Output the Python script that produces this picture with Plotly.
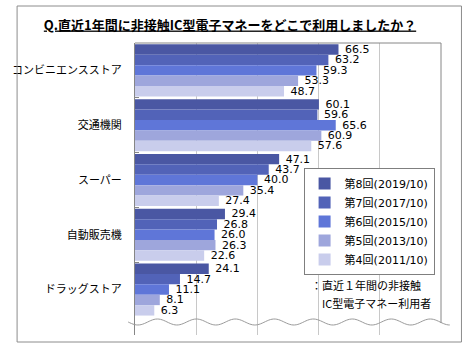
import numpy as np
import plotly.graph_objects as go

categories = ["コンビニエンスストア", "交通機関", "スーパー", "自動販売機", "ドラッグストア"]
series_names = ["第8回(2019/10)", "第7回(2017/10)", "第6回(2015/10)", "第5回(2013/10)", "第4回(2011/10)"]
values_8 = [66.5, 60.1, 47.1, 29.4, 24.1]
values_7 = [63.2, 59.6, 43.7, 26.8, 14.7]
values_6 = [59.3, 65.6, 40.0, 26.0, 11.1]
values_5 = [53.3, 60.9, 35.4, 26.3, 8.1]
values_4 = [48.7, 57.6, 27.4, 22.6, 6.3]
series_values = [values_8, values_7, values_6, values_5, values_4]
colors = ["#4a57a3", "#5263b8", "#5f76d8", "#9ea6dc", "#c9cdec"]

W, H = 470, 350
L, R, T, B = 127, 441, 43, 335  # plot area in px


def px_x(x):
    return (x - L) / (R - L)


def px_y(y):
    return (B - y) / (B - T)


fig = go.Figure()
for name, vals, col in zip(series_names, series_values, colors):
    fig.add_trace(go.Bar(
        y=categories, x=vals, name=name, orientation="h",
        marker=dict(color=col, line=dict(width=0)),
        text=[f" {v:.1f}" for v in vals], textposition="outside",
        textfont=dict(family="DejaVu Sans", size=11, color="#000000"),
        constraintext="none", cliponaxis=False,
        legendgroup=name,
    ))

# decorative wave (axis break)
wx = np.linspace(120, 450, 200)
wy = 322 + 3 * np.sin((wx - 120) / 40 * 2 * np.pi)
path = "M" + " L".join(f"{px_x(a):.5f},{px_y(b):.5f}" for a, b in zip(wx, wy))

shapes = [
    dict(type="path", path=path, xref="paper", yref="paper",
         line=dict(color="#9a9a9a", width=1)),
    # top border of plot area
    dict(type="line", xref="paper", yref="paper", x0=0, x1=1, y0=1, y1=1,
         line=dict(color="#868686", width=1)),
    # right border of plot area
    dict(type="line", xref="paper", yref="paper", x0=1, x1=1, y0=1, y1=px_y(323),
         line=dict(color="#868686", width=1)),
    # outer frame
    dict(type="rect", xref="paper", yref="paper",
         x0=px_x(6), x1=px_x(462), y0=px_y(342), y1=px_y(6),
         line=dict(color="#8c8c8c", width=1)),
]

annotations = [
    dict(text="：直近１年間の非接触", xref="paper", yref="paper",
         x=px_x(306), y=px_y(285), xanchor="left", yanchor="middle", showarrow=False,
         font=dict(family="Noto Sans CJK JP", size=11, color="#000000")),
    dict(text="IC型電子マネー利用者", xref="paper", yref="paper",
         x=px_x(317), y=px_y(303), xanchor="left", yanchor="middle", showarrow=False,
         font=dict(family="Noto Sans CJK JP", size=11, color="#000000")),
]

fig.update_layout(
    width=W, height=H,
    margin=dict(l=L, r=W - R, t=T, b=H - B, pad=0),
    paper_bgcolor="#ffffff", plot_bgcolor="#ffffff",
    barmode="group", bargap=0.05, bargroupgap=0,
    font=dict(family="DejaVu Sans, Noto Sans CJK JP", size=11, color="#000000"),
    title=dict(text="<b><u>Q.直近1年間に非接触IC型電子マネーをどこで利用しましたか？</u></b>",
               x=230 / W, xref="container", xanchor="center",
               y=1 - 25 / H, yref="container", yanchor="middle",
               font=dict(family="Noto Sans CJK JP", size=13, color="#000000")),
    legend=dict(x=px_x(300), y=px_y(168), xanchor="left", yanchor="top",
                bgcolor="#ffffff", bordercolor="#7f7f7f", borderwidth=1,
                traceorder="grouped", tracegroupgap=0,
                font=dict(family="DejaVu Sans, Noto Sans CJK JP", size=11)),
    shapes=shapes, annotations=annotations,
    showlegend=True,
)
fig.update_xaxes(range=[0, 100], tickmode="array", tickvals=[20, 40, 60, 80],
                 showticklabels=False, showgrid=True, gridcolor="#c8c8c8", gridwidth=1,
                 zeroline=False, showline=False, fixedrange=True)
fig.update_yaxes(type="category", categoryorder="array", categoryarray=categories,
                 range=[4.83, -0.5], showline=True, linecolor="#868686", linewidth=1,
                 ticks="inside", tickson="boundaries", ticklen=4, tickcolor="#868686",
                 showgrid=False, ticklabelstandoff=10,
                 tickfont=dict(family="Noto Sans CJK JP", size=11, color="#000000"))

fig.write_html("out.html")
